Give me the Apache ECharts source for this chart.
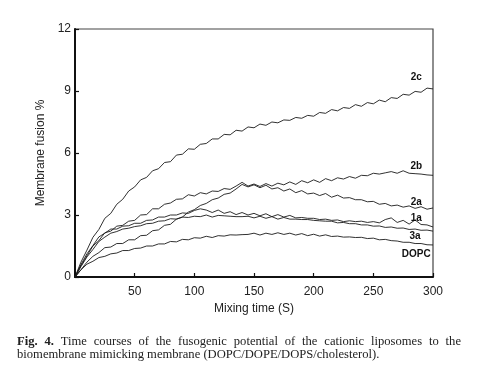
<!DOCTYPE html>
<html>
<head>
<meta charset="utf-8">
<script src="https://cdn.jsdelivr.net/npm/echarts@6/dist/echarts.min.js"></script>
<style>
html,body{margin:0;padding:0;background:#fff;}
#c{width:495px;height:378px;}
</style>
</head>
<body>
<div id="c"></div>
<script>
// time points (s)
var times = [0,5,10,15,20,25,30,35,40,45,50,55,60,65,70,75,80,85,90,95,100,105,110,115,120,125,130,135,140,145,150,155,160,165,170,175,180,185,190,195,200,205,210,215,220,225,230,235,240,245,250,255,260,265,270,275,280,285,290,295,300];

var s2c = [0,0.72,1.30,1.92,2.30,2.84,3.08,3.52,3.76,4.16,4.36,4.70,4.82,5.14,5.24,5.54,5.58,5.90,5.94,6.20,6.18,6.42,6.46,6.68,6.68,6.90,6.88,7.10,7.06,7.26,7.22,7.40,7.34,7.50,7.46,7.60,7.58,7.72,7.68,7.82,7.78,7.96,7.92,8.10,8.04,8.20,8.16,8.34,8.26,8.44,8.38,8.56,8.48,8.68,8.64,8.84,8.80,8.98,8.94,9.14,9.10];

var s2b = [0,0.55,1.02,1.50,1.76,2.14,2.22,2.46,2.50,2.70,2.74,3.00,3.02,3.30,3.30,3.52,3.58,3.76,3.78,3.98,3.92,4.08,4.02,4.16,4.14,4.28,4.24,4.40,4.58,4.40,4.50,4.38,4.52,4.40,4.54,4.46,4.60,4.48,4.66,4.56,4.70,4.58,4.76,4.66,4.80,4.74,4.86,4.78,4.92,4.90,5.02,4.98,5.04,5.10,5.02,5.14,5.02,5.00,4.98,4.94,4.92];

var s2a = [0,0.35,0.72,1.00,1.18,1.42,1.45,1.62,1.62,1.80,1.80,2.00,2.02,2.24,2.28,2.50,2.55,2.80,2.90,3.14,3.26,3.46,3.56,3.74,3.82,4.00,4.06,4.26,4.48,4.36,4.46,4.32,4.44,4.26,4.32,4.16,4.26,4.08,4.18,4.02,4.06,3.94,4.04,3.86,3.96,3.82,3.84,3.74,3.74,3.64,3.66,3.52,3.56,3.44,3.48,3.38,3.44,3.32,3.40,3.28,3.34];

var s1a = [0,0.60,1.12,1.52,1.94,2.12,2.32,2.32,2.46,2.48,2.60,2.60,2.74,2.76,2.90,2.90,3.00,3.00,3.10,3.08,3.22,3.30,3.24,3.12,3.24,3.08,3.16,3.02,3.12,3.00,3.08,2.96,3.06,2.92,3.02,2.90,2.98,2.86,2.88,2.84,2.84,2.78,2.80,2.74,2.76,2.68,2.72,2.68,2.70,2.64,2.68,2.62,2.78,2.86,2.64,2.74,2.56,2.76,2.54,2.52,2.42];

var s3a = [0,0.50,0.97,1.33,1.72,1.93,2.12,2.20,2.32,2.36,2.44,2.48,2.58,2.60,2.70,2.72,2.82,2.80,2.90,2.88,2.94,2.92,3.00,2.90,2.98,2.96,2.94,2.92,2.92,2.94,2.86,2.94,2.84,2.92,2.80,2.88,2.80,2.80,2.78,2.78,2.74,2.72,2.70,2.70,2.62,2.64,2.58,2.58,2.52,2.52,2.46,2.47,2.40,2.42,2.36,2.37,2.30,2.32,2.26,2.27,2.22];

var sDOPC = [0,0.35,0.62,0.76,0.94,1.00,1.12,1.16,1.28,1.28,1.38,1.40,1.50,1.50,1.60,1.60,1.72,1.70,1.82,1.80,1.90,1.88,1.97,1.91,2.00,1.98,2.04,2.03,2.05,2.06,2.12,2.03,2.12,2.06,2.14,2.06,2.12,2.03,2.10,2.00,2.07,1.98,2.04,1.96,1.98,1.93,1.94,1.91,1.92,1.86,1.88,1.80,1.82,1.76,1.74,1.68,1.68,1.62,1.62,1.56,1.55];

var seriesNames = ['2c','2b','2a','1a','3a','DOPC'];
var seriesData = [s2c,s2b,s2a,s1a,s3a,sDOPC];
var xTicks = [0,50,100,150,200,250,300];
var yTicks = [0,3,6,9,12];

var captionLine1 = ['Fig.','4.','Time','courses','of','the','fusogenic','potential','of','the','cationic','liposomes','to','the'];
var captionLine2 = 'biomembrane mimicking membrane (DOPC/DOPE/DOPS/cholesterol).';

// label anchor positions (in data units)
var labelPos = {'2c':[286,9.68],'2b':[286,5.37],'2a':[286,3.63],'1a':[286,2.85],'3a':[285,1.98],'DOPC':[286,1.11]};

function pairs(arr){ return times.map(function(t,i){return [t,arr[i]];}); }

var lineColor = '#1a1a1a';
var series = seriesNames.map(function(n,i){
  return {
    name:n, type:'line', data:pairs(seriesData[i]), showSymbol:false, smooth:false,
    lineStyle:{color:lineColor,width:0.9}, silent:true, z:3,
    markPoint:{symbol:'circle',symbolSize:0,silent:true,
      label:{show:true,formatter:n,color:'#111',fontWeight:'bold',fontSize:10,fontFamily:'Liberation Sans, Arial, sans-serif',position:'inside'},
      data:[{coord:labelPos[n]}]}
  };
});

// caption justification
var capFont = '12.6px "Liberation Serif", serif';
var capBold = 'bold 12.6px "Liberation Serif", serif';
var cv = document.createElement('canvas').getContext('2d');
function w(t,bold){ cv.font = bold?capBold:capFont; return cv.measureText(t).width; }
var left=17, right=461;
var total=0; captionLine1.forEach(function(t,i){ total+=w(t,i<2); });
var gap=(right-left-total)/(captionLine1.length-1);
var graphics=[]; var xx=left;
captionLine1.forEach(function(t,i){
  graphics.push({type:'text',left:xx,top:335,style:{text:t,font:(i<2?capBold:capFont),fill:'#222'}});
  xx+=w(t,i<2)+gap;
});
graphics.push({type:'text',left:left,top:348.5,style:{text:captionLine2,font:capFont,fill:'#222'}});

var chart = echarts.init(document.getElementById('c'),null,{renderer:'canvas'});
chart.setOption({
  animation:false,
  backgroundColor:'#fff',
  grid:{left:75,top:29,right:62,bottom:101,show:true,borderColor:'#444',borderWidth:1.2,backgroundColor:'transparent'},
  xAxis:{type:'value',min:0,max:300,interval:50,
    name:'Mixing time (S)',nameLocation:'middle',nameGap:24,
    nameTextStyle:{fontSize:12,fontFamily:'Liberation Sans, Arial, sans-serif',color:'#222'},
    axisLine:{show:true,lineStyle:{color:'#111',width:2}},
    axisTick:{show:true,inside:true,length:4,lineStyle:{color:'#111',width:1.2}},
    axisLabel:{margin:9,fontSize:12,fontFamily:'Liberation Sans, Arial, sans-serif',color:'#222',
      formatter:function(v){return v===0?'':String(v);}},
    splitLine:{show:false}},
  yAxis:{type:'value',min:0,max:12,interval:3,
    name:'Membrane fusion %',nameLocation:'middle',nameGap:27,
    nameTextStyle:{fontSize:12,fontFamily:'Liberation Sans, Arial, sans-serif',color:'#222'},
    axisLine:{show:true,lineStyle:{color:'#111',width:2}},
    axisTick:{show:true,inside:true,length:4,lineStyle:{color:'#111',width:1.2}},
    axisLabel:{margin:4,fontSize:12,fontFamily:'Liberation Sans, Arial, sans-serif',color:'#222'},
    splitLine:{show:false}},
  series:series,
  graphic:graphics
});
</script>
</body>
</html>
